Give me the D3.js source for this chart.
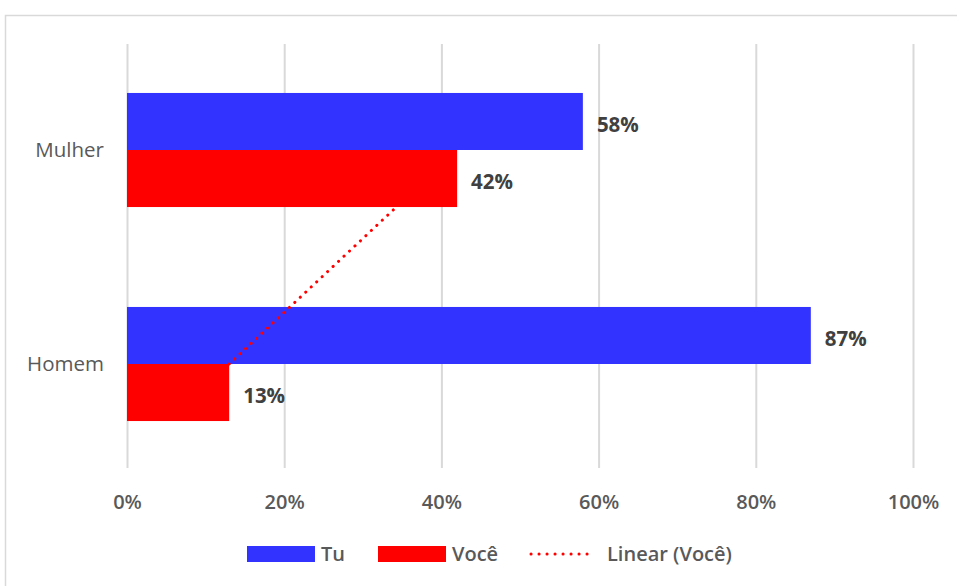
<!DOCTYPE html>
<html lang="pt">
<head>
  <meta charset="UTF-8">
  <title>Tu / Você</title>
  <script src="https://cdn.jsdelivr.net/npm/d3@7/dist/d3.min.js"></script>
  <style>
    body { margin: 0; background: #fff; }
    text { font-family: "Open Sans", "Noto Sans", sans-serif; }
  </style>
</head>
<body>
  <div id="grafica"></div>

  <script>
    // dados
    categorias = ['Mulher', 'Homem']
    series = ['Tu', 'Você']
    valoresTu = [0.58, 0.87]
    valoresVoce = [0.42, 0.13]
    ticks = [0, 0.2, 0.4, 0.6, 0.8, 1]
    cores = { 'Tu': '#3333ff', 'Você': '#ff0000' }

    ancho = 957
    alto = 586

    svg = d3.select('#grafica')
      .append('svg')
      .attr('width', ancho)
      .attr('height', alto)

    // moldura do gráfico
    svg.append('rect')
      .attr('x', 5.5).attr('y', 15.5)
      .attr('width', 1000).attr('height', 1000)
      .attr('fill', 'none')
      .attr('stroke', '#d9d9d9')
      .attr('stroke-width', 1.5)

    topo = 44
    base = 468

    x = d3.scaleLinear()
      .domain([0, 1])
      .range([127, 913])

    y = d3.scaleBand()
      .domain(categorias)
      .range([43, 471])
      .paddingInner(0.467)
      .paddingOuter(0.2335)

    ySub = d3.scaleBand()
      .domain(series)
      .range([0, y.bandwidth()])

    // eixo e grade
    eixo = svg.append('g')
      .attr('transform', 'translate(0,' + base + ')')
      .call(d3.axisBottom(x)
        .tickValues(ticks)
        .tickFormat(d3.format('.0%'))
        .tickSize(-(base - topo)))

    eixo.select('.domain').remove()
    eixo.selectAll('line')
      .attr('stroke', '#d9d9d9')
      .attr('stroke-width', 2)
    eixo.selectAll('text')
      .attr('y', 34)
      .attr('dy', '0.35em')
      .attr('fill', '#595959')
      .attr('font-size', 20)
      .attr('font-weight', 600)

    // barras
    linhas = categorias.map(function(c, i) {
      return { cat: c, Tu: valoresTu[i], 'Você': valoresVoce[i] }
    })

    grupos = svg.selectAll('g.cat')
      .data(linhas)
      .enter()
      .append('g')
      .attr('class', 'cat')
      .attr('transform', d => 'translate(0,' + y(d.cat) + ')')

    grupos.selectAll('rect')
      .data(d => series.map(s => ({ s: s, v: d[s] })))
      .enter()
      .append('rect')
      .attr('x', x(0))
      .attr('y', d => ySub(d.s))
      .attr('width', d => x(d.v) - x(0))
      .attr('height', ySub.bandwidth())
      .attr('fill', d => cores[d.s])

    grupos.selectAll('text.rot')
      .data(d => series.map(s => ({ s: s, v: d[s] })))
      .enter()
      .append('text')
      .attr('class', 'rot')
      .attr('x', d => x(d.v) + 14)
      .attr('y', d => ySub(d.s) + ySub.bandwidth() / 2 + 3)
      .attr('dy', '0.35em')
      .attr('fill', '#404040')
      .attr('font-size', 20.5)
      .attr('font-weight', 'bold')
      .text(d => d3.format('.0%')(d.v))

    // rótulos das categorias
    svg.selectAll('text.catlab')
      .data(categorias)
      .enter()
      .append('text')
      .attr('class', 'catlab')
      .attr('x', 104)
      .attr('y', d => y(d) + y.bandwidth() / 2)
      .attr('dy', '0.35em')
      .attr('text-anchor', 'end')
      .attr('fill', '#595959')
      .attr('font-size', 20.5)
      .text(d => d)

    // linha de tendência linear (Você), sobre as categorias 1..n (de baixo para cima)
    pts = categorias.map((c, i) => ({ cat: c, k: categorias.length - i, v: valoresVoce[i] }))
    mk = d3.mean(pts, d => d.k)
    mv = d3.mean(pts, d => d.v)
    inclin = d3.sum(pts, d => (d.k - mk) * (d.v - mv)) / d3.sum(pts, d => (d.k - mk) * (d.k - mk))
    inter = mv - inclin * mk
    tendencia = pts.slice().sort((a, b) => a.k - b.k)
      .map(d => ({ x: x(inter + inclin * d.k), y: y(d.cat) + y.bandwidth() / 2 }))

    svg.append('path')
      .datum(tendencia)
      .attr('d', d3.line().x(d => d.x).y(d => d.y))
      .attr('fill', 'none')
      .attr('stroke', '#ff0000')
      .attr('stroke-width', 3)
      .attr('stroke-linecap', 'round')
      .attr('stroke-dasharray', '0.1 7.4')

    // legenda
    leg = svg.append('g').attr('transform', 'translate(0,554)')
    itens = [
      { nome: 'Tu', tipo: 'rect', cor: cores['Tu'], x: 247 },
      { nome: 'Você', tipo: 'rect', cor: cores['Você'], x: 378 },
      { nome: 'Linear (Você)', tipo: 'line', cor: '#ff0000', x: 531 }
    ]
    itens.forEach(function(it) {
      if (it.tipo == 'rect') {
        leg.append('rect')
          .attr('x', it.x).attr('y', -8)
          .attr('width', 68).attr('height', 16)
          .attr('fill', it.cor)
        leg.append('text')
          .attr('x', it.x + 74).attr('dy', '0.35em')
          .attr('fill', '#595959').attr('font-size', 20).attr('font-weight', 600)
          .text(it.nome)
      } else {
        leg.append('line')
          .attr('x1', it.x).attr('x2', it.x + 64)
          .attr('stroke', it.cor).attr('stroke-width', 3)
          .attr('stroke-linecap', 'round')
          .attr('stroke-dasharray', '0.1 7.9')
        leg.append('text')
          .attr('x', it.x + 76).attr('dy', '0.35em')
          .attr('fill', '#595959').attr('font-size', 20).attr('font-weight', 600)
          .text(it.nome)
      }
    })
  </script>
</body>
</html>
